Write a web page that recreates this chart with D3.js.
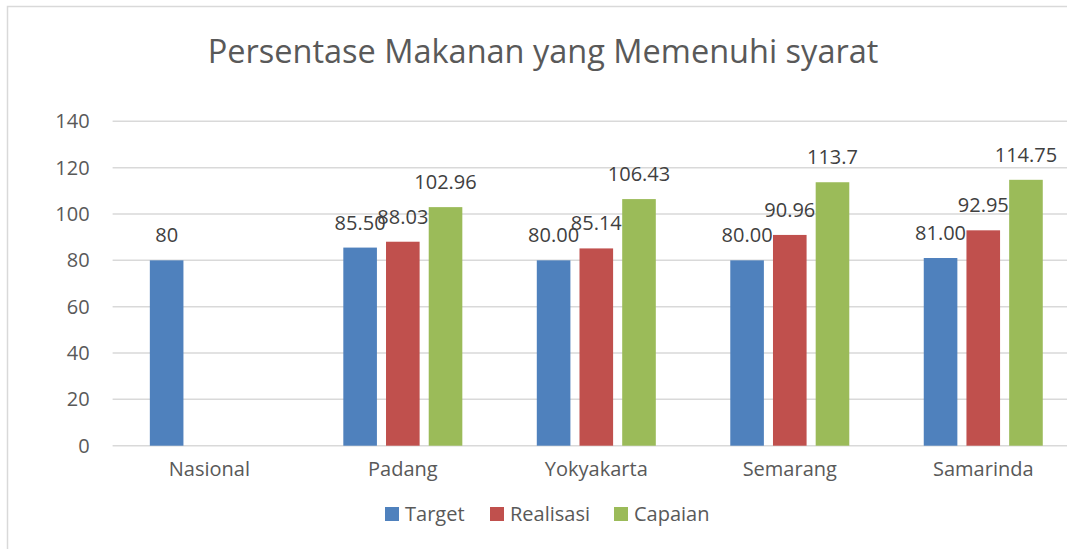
<!DOCTYPE html>
<html>
<head>
<meta charset="utf-8">
<script src="https://cdn.jsdelivr.net/npm/d3@7"></script>
<style>
  body { margin: 0; background: #fff; }
  svg { display: block; font-family: "Open Sans", sans-serif; }
</style>
</head>
<body>
<div id="chart-container"></div>
<script>
// chart data
const categories = ["Nasional", "Padang", "Yokyakarta", "Semarang", "Samarinda"];
const seriesNames = ["Target", "Realisasi", "Capaian"];
const target = [80, 85.5, 80, 80, 81];
const realisasi = [null, 88.03, 85.14, 90.96, 92.95];
const capaian = [null, 102.96, 106.43, 113.7, 114.75];
const targetLabels = ["80", "85.50", "80.00", "80.00", "81.00"];
const realisasiLabels = [null, "88.03", "85.14", "90.96", "92.95"];
const capaianLabels = [null, "102.96", "106.43", "113.7", "114.75"];
const yTicks = [0, 20, 40, 60, 80, 100, 120, 140];
const colors = ["#4F81BD", "#C0504D", "#9BBB59"];

const width = 1067;
const height = 549;
const margin = { top: 121.3, right: -13, bottom: 103.3, left: 112.6 };

const svg = d3.select("#chart-container")
  .append("svg")
  .attr("width", width)
  .attr("height", height);

// chart frame (cropped on the right and bottom in the original)
svg.append("path")
  .attr("d", "M7.5,560 V6.5 H1080")
  .attr("fill", "none")
  .attr("stroke", "#d9d9d9")
  .attr("stroke-width", 1.5);

// title
svg.append("text")
  .attr("x", 543)
  .attr("y", 62.5)
  .attr("text-anchor", "middle")
  .attr("fill", "#595959")
  .style("font-size", "32.5px")
  .text("Persentase Makanan yang Memenuhi syarat");

const innerWidth = width - margin.left - margin.right;
const innerHeight = height - margin.top - margin.bottom;

const x0 = d3.scaleBand()
  .domain(categories)
  .range([0, innerWidth]);

const x1 = d3.scaleBand()
  .domain(seriesNames)
  .range([0, x0.bandwidth()])
  .paddingInner(0.213)
  .paddingOuter(0.872);

const y = d3.scaleLinear()
  .domain([0, 140])
  .range([innerHeight, 0]);

const g = svg.append("g")
  .attr("transform", `translate(${margin.left},${margin.top})`);

// gridlines
g.selectAll(".grid")
  .data(yTicks)
  .enter()
  .append("line")
  .attr("class", "grid")
  .attr("x1", 0)
  .attr("x2", innerWidth)
  .attr("y1", d => y(d))
  .attr("y2", d => y(d))
  .attr("stroke", "#d9d9d9")
  .attr("stroke-width", 1.5);

// y axis labels
const yAxis = d3.axisLeft(y).tickValues(yTicks).tickSize(0).tickPadding(23);
const yG = g.append("g").call(yAxis);
yG.select(".domain").remove();
yG.selectAll("text")
  .attr("fill", "#595959")
  .style("font-size", "20px")
  .style("font-family", "Open Sans, sans-serif");

// x axis labels
const xAxis = d3.axisBottom(x0).tickSize(0).tickPadding(16);
const xG = g.append("g")
  .attr("transform", `translate(0,${innerHeight})`)
  .call(xAxis);
xG.select(".domain").remove();
xG.selectAll("text")
  .attr("fill", "#595959")
  .style("font-size", "20px")
  .style("font-family", "Open Sans, sans-serif");

// bars
const values = [target, realisasi, capaian];
const labels = [targetLabels, realisasiLabels, capaianLabels];
const rows = [];
seriesNames.forEach((s, si) => {
  categories.forEach((c, ci) => {
    if (values[si][ci] != null) {
      rows.push({ series: s, cat: c, value: values[si][ci], label: labels[si][ci], color: colors[si] });
    }
  });
});

g.selectAll(".bar")
  .data(rows)
  .enter()
  .append("rect")
  .attr("class", "bar")
  .attr("x", d => x0(d.cat) + x1(d.series))
  .attr("y", d => y(d.value))
  .attr("width", x1.bandwidth())
  .attr("height", d => innerHeight - y(d.value))
  .attr("fill", d => d.color);

// data labels
g.selectAll(".label")
  .data(rows)
  .enter()
  .append("text")
  .attr("class", "label")
  .attr("x", d => x0(d.cat) + x1(d.series) + x1.bandwidth() / 2)
  .attr("y", d => y(d.value) - 18)
  .attr("text-anchor", "middle")
  .attr("fill", "#404040")
  .style("font-size", "20px")
  .text(d => d.label);

// legend
const legendX = [385, 490, 614];
const legend = svg.append("g");
seriesNames.forEach((s, i) => {
  legend.append("rect")
    .attr("x", legendX[i])
    .attr("y", 507)
    .attr("width", 14)
    .attr("height", 14)
    .attr("fill", colors[i]);
  legend.append("text")
    .attr("x", legendX[i] + 20)
    .attr("y", 520.5)
    .attr("fill", "#595959")
    .style("font-size", "20px")
    .text(s);
});
</script>
</body>
</html>
